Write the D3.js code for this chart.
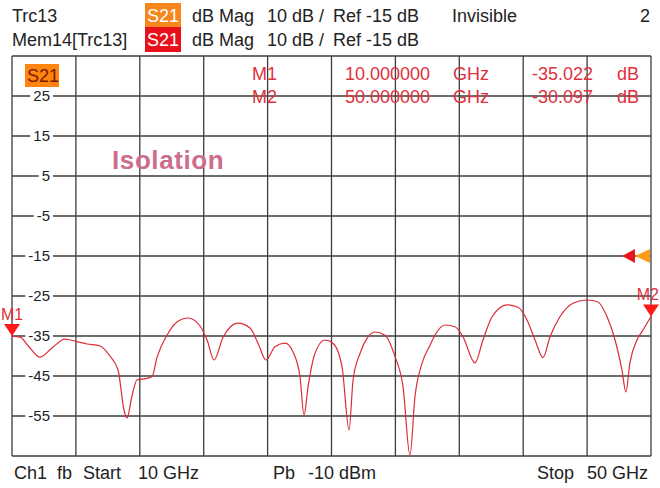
<!DOCTYPE html>
<html>
<head>
<meta charset="utf-8">
<script src="https://cdn.jsdelivr.net/npm/d3@7"></script>
<style>
  body { margin: 0; background: #fff; }
  svg { display: block; }
  text { font-family: "Liberation Sans", Arial, sans-serif; }
</style>
</head>
<body>
<script>
const W = 660
const H = 488

// trace: frequency (GHz) and S21 (dB)
const freqs = [10.00, 10.50, 11.13, 11.75, 12.50, 13.32, 14.07, 14.70, 15.51, 16.13, 16.64, 17.01, 17.20, 17.51, 17.82, 18.14, 18.76, 19.08, 19.70, 20.33, 21.02, 21.77, 22.21, 22.65, 23.21, 23.65, 24.15, 24.90, 25.40, 25.90, 26.46, 27.09, 27.59, 28.03, 28.28, 28.53, 28.97, 29.59, 30.09, 30.66, 31.10, 31.35, 31.79, 32.22, 32.72, 33.35, 33.98, 34.48, 34.91, 35.23, 35.67, 36.17, 36.48, 37.11, 37.73, 38.23, 38.98, 39.48, 40.05, 40.99, 41.68, 42.24, 42.74, 43.24, 43.68, 44.30, 45.12, 45.99, 46.68, 47.25, 47.75, 48.18, 48.43, 48.68, 49.12, 49.50, 50.00]
const s21 = [-35.02, -35.3, -38.0, -40.3, -38.0, -35.8, -36.4, -37.0, -37.5, -40.0, -43.5, -53.5, -55.5, -50.0, -46.0, -45.8, -45.2, -40.3, -34.8, -31.5, -30.5, -32.5, -36.0, -41.0, -35.3, -32.8, -31.8, -33.0, -36.8, -41.0, -37.7, -36.8, -39.0, -45.2, -54.8, -47.7, -39.3, -36.0, -36.8, -42.7, -58.5, -46.0, -39.3, -35.6, -34.0, -34.8, -40.2, -47.7, -64.8, -50.0, -41.8, -37.3, -34.75, -32.25, -32.7, -35.2, -41.7, -36.0, -30.2, -27.2, -27.8, -31.0, -36.0, -40.4, -35.2, -30.2, -26.8, -26.0, -26.5, -30.2, -36.0, -43.5, -49.0, -41.7, -36.0, -33.5, -30.1]

const yTickValues = [35, 25, 15, 5, -5, -15, -25, -35, -45, -55, -65]
const yTickLabels = ['', '25', '15', '5', '-5', '-15', '-25', '-35', '-45', '-55', '']
const xTickValues = [10, 14, 18, 22, 26, 30, 34, 38, 42, 46, 50]

const markers = [
  { name: 'M1', f: 10, v: -35.022, freqText: '10.000000', valText: '-35.022' },
  { name: 'M2', f: 50, v: -30.097, freqText: '50.000000', valText: '-30.097' }
]
const refLevel = -15

const plot = { left: 12, right: 651, top: 56, bottom: 456 }

const x = d3.scaleLinear().domain([10, 50]).range([plot.left, plot.right])
const y = d3.scaleLinear().domain([-65, 35]).range([plot.bottom, plot.top])

const svg = d3.select('body').append('svg')
  .attr('width', W)
  .attr('height', H)

// header
const header = svg.append('g').attr('font-size', 18).attr('fill', '#222')
header.append('text').attr('x', 12).attr('y', 22).text('Trc13')
header.append('text').attr('x', 12).attr('y', 46).text('Mem14[Trc13]')
header.append('rect').attr('x', 145).attr('y', 3).attr('width', 36).attr('height', 24).attr('fill', '#f7861c')
header.append('rect').attr('x', 145).attr('y', 27).attr('width', 36).attr('height', 25).attr('fill', '#e8101a')
header.append('text').attr('x', 147).attr('y', 22).attr('fill', '#fff').text('S21')
header.append('text').attr('x', 147).attr('y', 46).attr('fill', '#fff').text('S21')
;[22, 46].forEach(by => {
  header.append('text').attr('x', 192).attr('y', by).text('dB Mag')
  header.append('text').attr('x', 267).attr('y', by).text('10 dB /')
  header.append('text').attr('x', 333).attr('y', by).text('Ref -15 dB')
})
header.append('text').attr('x', 452).attr('y', 22).text('Invisible')
header.append('text').attr('x', 650).attr('y', 22).attr('text-anchor', 'end').text('2')

// grid
const grid = svg.append('g').attr('stroke', '#3c3c3c').attr('stroke-width', 1.3)
grid.selectAll('.vl').data(xTickValues).join('line')
  .attr('x1', d => x(d)).attr('x2', d => x(d))
  .attr('y1', plot.top).attr('y2', plot.bottom)
grid.selectAll('.hl').data(yTickValues).join('line')
  .attr('x1', plot.left).attr('x2', plot.right)
  .attr('y1', d => y(d)).attr('y2', d => y(d))

// y labels with white backing
const labels = svg.append('g').attr('font-size', 15).attr('fill', '#222')
yTickValues.forEach((v, i) => {
  if (!yTickLabels[i]) return
  const t = labels.append('text')
    .attr('x', 50).attr('y', y(v)).attr('dy', '0.36em')
    .attr('text-anchor', 'end').text(yTickLabels[i])
  const b = t.node().getBBox()
  labels.insert('rect', 'text')
    .attr('x', b.x - 3).attr('y', y(v) - 2).attr('width', b.width + 6).attr('height', 4)
    .attr('fill', '#fff')
})

// S21 tag in plot
svg.append('rect').attr('x', 25).attr('y', 64).attr('width', 34).attr('height', 23).attr('fill', '#ff8410')
svg.append('text').attr('x', 27).attr('y', 82).attr('font-size', 18).attr('fill', '#7a1a00').text('S21')

// marker table
const mt = svg.append('g').attr('font-size', 18).attr('fill', '#e0303c')
markers.forEach((m, i) => {
  const by = 80 + i * 23
  mt.append('text').attr('x', 252).attr('y', by).text(m.name)
  mt.append('text').attr('x', 345).attr('y', by).text(m.freqText)
  mt.append('text').attr('x', 453).attr('y', by).text('GHz')
  mt.append('text').attr('x', 532).attr('y', by).text(m.valText)
  mt.append('text').attr('x', 617).attr('y', by).text('dB')
})

// title
svg.append('text').attr('x', 112).attr('y', 169)
  .attr('font-size', 26).attr('font-weight', 'bold').attr('letter-spacing', 0.6)
  .attr('fill', '#cc6d8f').text('Isolation')

// trace
const line = d3.line()
  .x(d => x(d[0]))
  .y(d => y(d[1]))
  .curve(d3.curveMonotoneX)

svg.append('path')
  .datum(freqs.map((f, i) => [f, s21[i]]))
  .attr('d', line)
  .attr('fill', 'none')
  .attr('stroke', '#dc2b38')
  .attr('stroke-width', 1.2)

// reference arrows
const ry = y(refLevel)
svg.append('path').attr('d', `M${plot.right - 1},${ry - 7} L${plot.right - 16},${ry} L${plot.right - 1},${ry + 7}Z`).attr('fill', '#ff9a1a')
svg.append('path').attr('d', `M${plot.right - 16},${ry - 7} L${plot.right - 29},${ry} L${plot.right - 16},${ry + 7}Z`).attr('fill', '#e8141c')

// markers (labels kept inside the page edges)
markers.forEach(m => {
  const mx = x(m.f)
  const my = y(m.v)
  svg.append('path')
    .attr('d', `M${mx - 8},${my - 12} L${mx + 8},${my - 12} L${mx},${my}Z`)
    .attr('fill', '#ff1a1a')
  svg.append('text')
    .attr('x', m.f === 10 ? 1 : W - 1).attr('y', my - 16)
    .attr('text-anchor', m.f === 10 ? 'start' : 'end')
    .attr('font-size', 16).attr('fill', '#e0303c').text(m.name)
})

// footer
const footer = svg.append('g').attr('font-size', 18).attr('fill', '#222')
footer.append('text').attr('x', 14).attr('y', 479).text('Ch1')
footer.append('text').attr('x', 57).attr('y', 479).text('fb')
footer.append('text').attr('x', 83).attr('y', 479).text('Start')
footer.append('text').attr('x', 138).attr('y', 479).text('10 GHz')
footer.append('text').attr('x', 273).attr('y', 479).text('Pb')
footer.append('text').attr('x', 308).attr('y', 479).text('-10 dBm')
footer.append('text').attr('x', 537).attr('y', 479).text('Stop')
footer.append('text').attr('x', 648).attr('y', 479).attr('text-anchor', 'end').text('50 GHz')
</script>
</body>
</html>
